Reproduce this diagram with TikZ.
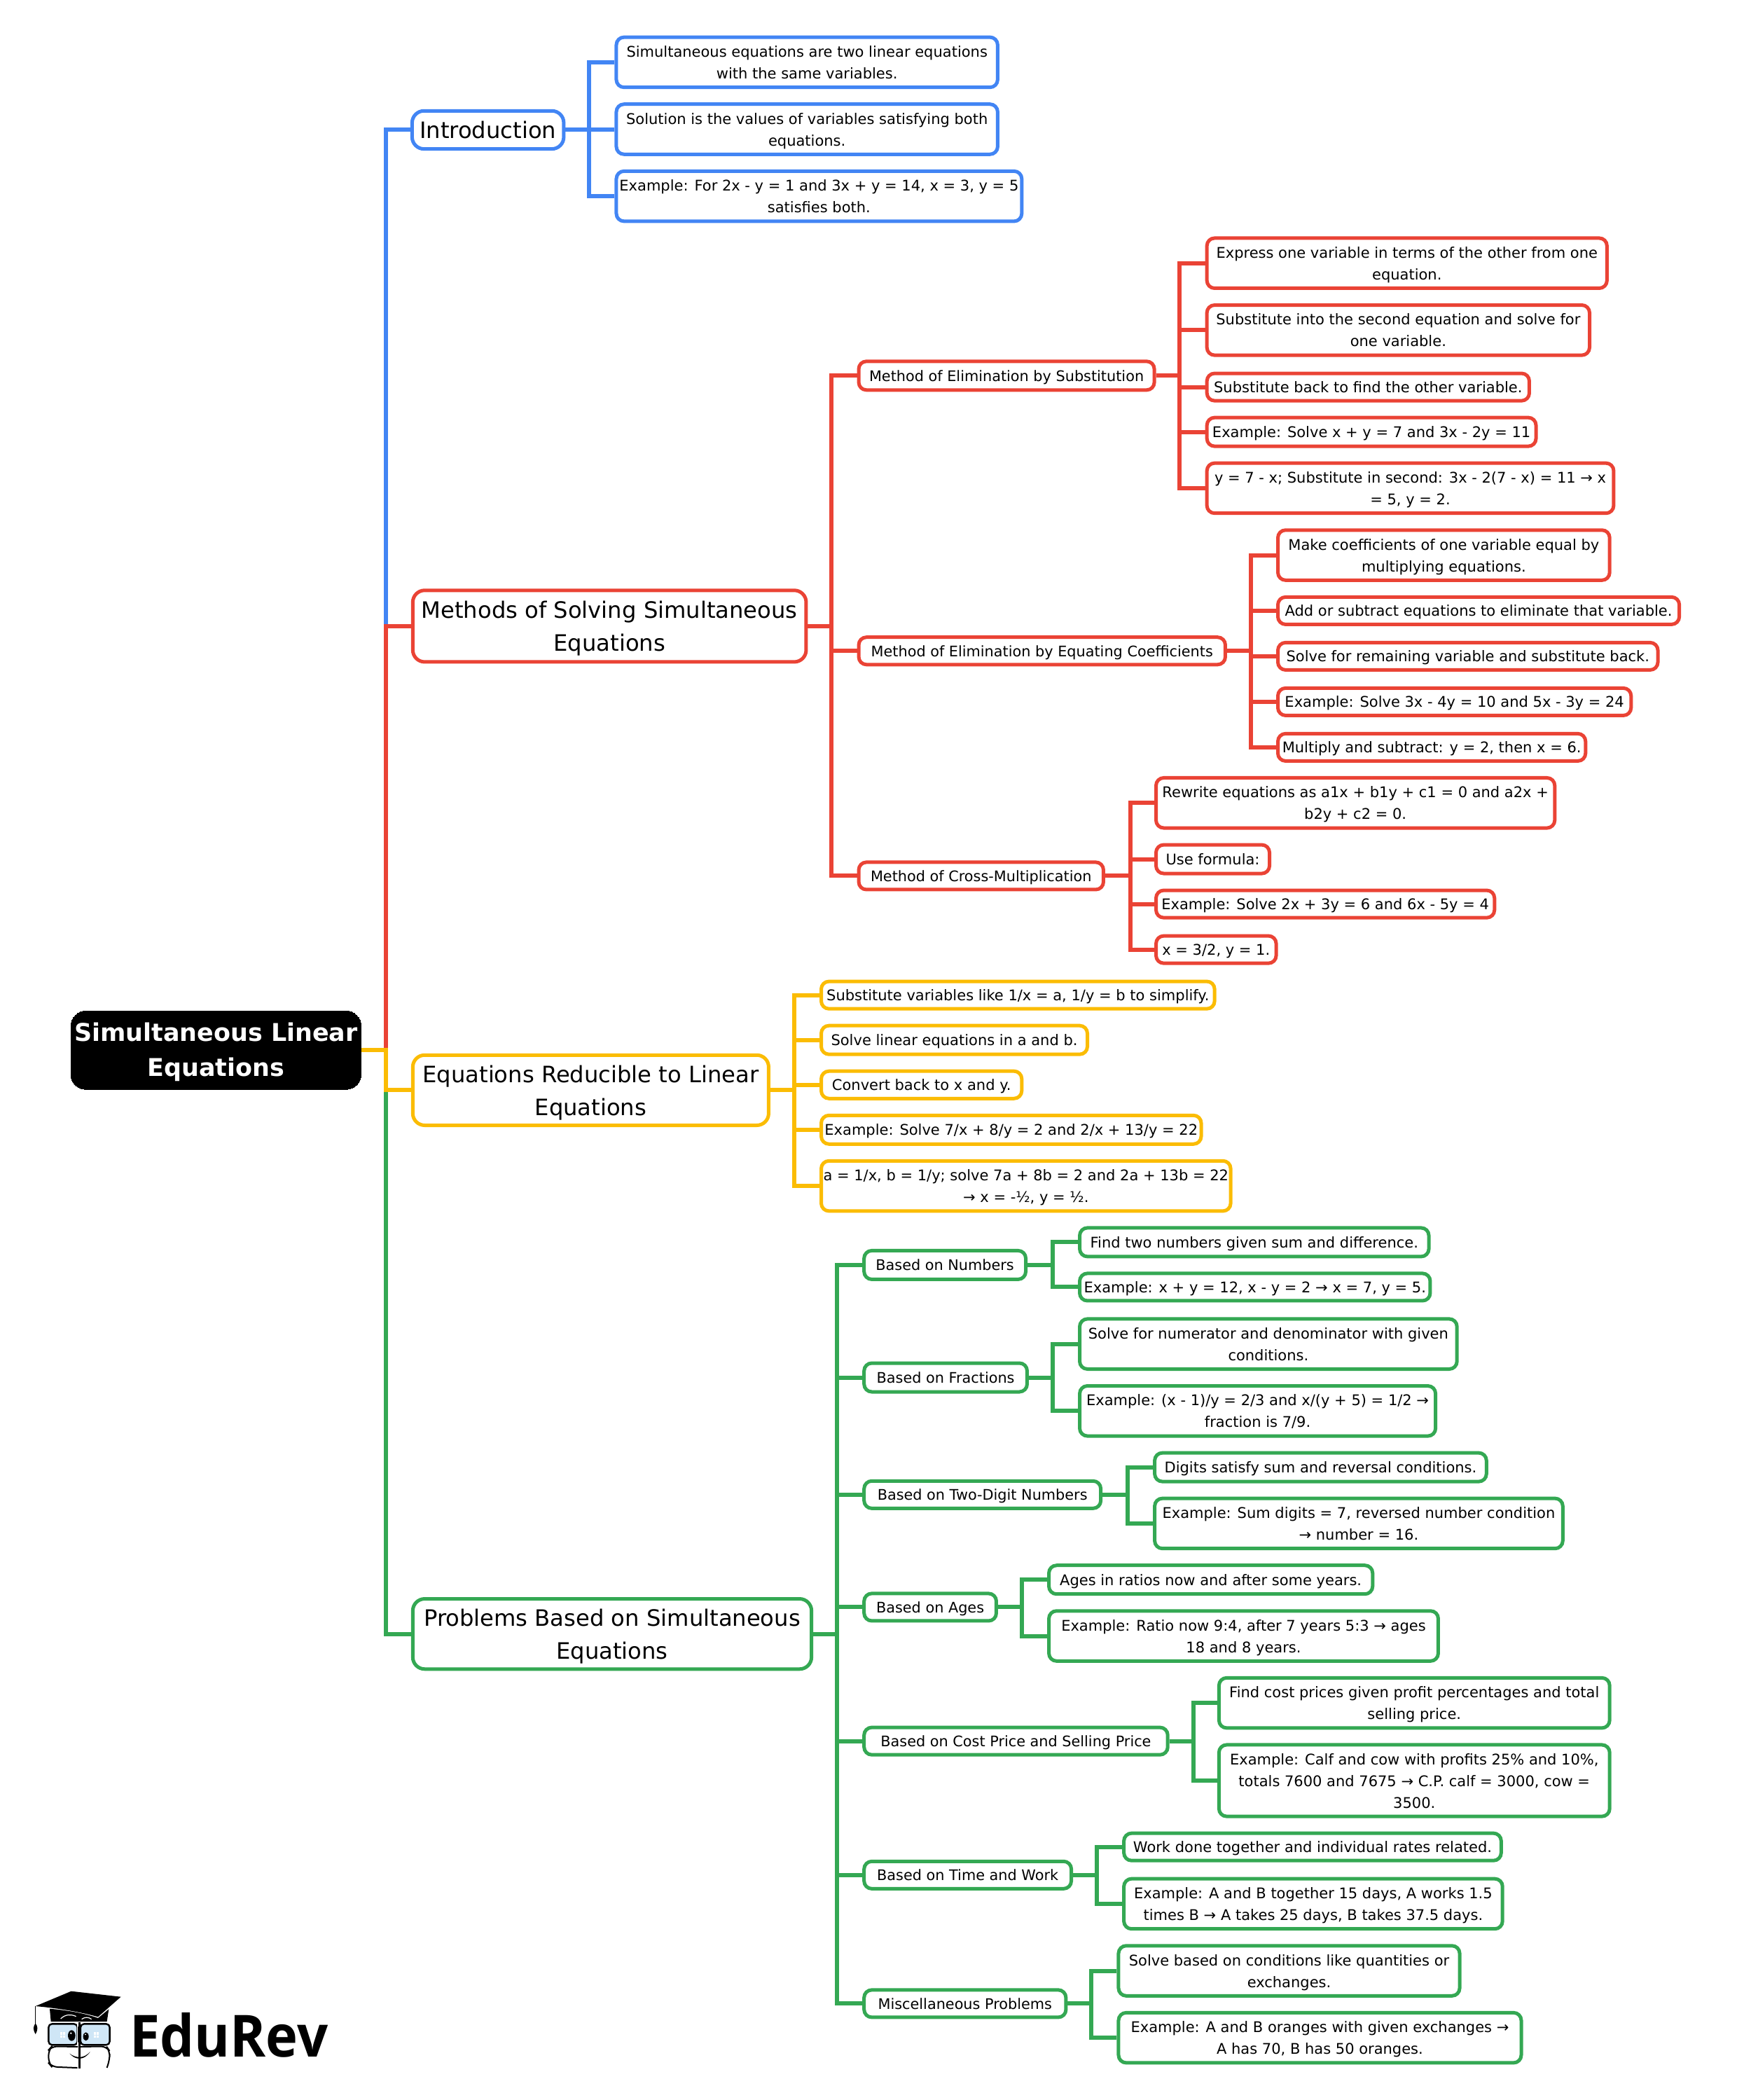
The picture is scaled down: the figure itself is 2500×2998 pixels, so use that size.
\documentclass[tikz,border=0pt]{standalone}
\usepackage{fontspec}
\setmainfont{DejaVu Sans}
\newfontfamily\logofont{Open Sans}
\definecolor{cblue}{HTML}{4285F4}
\definecolor{cred}{HTML}{EA4335}
\definecolor{cyel}{HTML}{FBBC04}
\definecolor{cgrn}{HTML}{34A853}
\definecolor{lens}{HTML}{CFE6F6}
\def\kk{1.912}
\tikzset{
  boxbase/.style={draw,fill=white,text=black,line width=5pt,rounded corners=11pt,inner sep=0pt,align=center,font=\fontsize{21}{31}\selectfont\def\hs{21pt}\def\ds{5pt}},
  midbox/.style={boxbase,font=\fontsize{20.8}{31}\selectfont\def\hs{21pt}\def\ds{5pt}},
  topbox/.style={boxbase,rounded corners=17pt,font=\fontsize{32.2}{47}\selectfont\def\hs{33pt}\def\ds{8.4pt}},
  rootbox/.style={boxbase,fill=black,draw=black,text=white,line width=0pt,rounded corners=22pt,font=\fontsize{34.9}{50}\selectfont\bfseries\def\hs{34pt}\def\ds{9pt}},
  wire/.style={draw=#1,line width=6pt,line join=miter}
}
% \bx{style}{name}{x1}{y1}{x2}{y2}{text}: coordinates as box edges
\newcommand\bx[7]{%
  \pgfmathsetmacro\cxx{(#3+#5)/2*\kk+0.2}%
  \pgfmathsetmacro\cyy{(#4+#6)/2*\kk}%
  \pgfmathsetmacro\ww{(#5-#3)*\kk-0.5}%
  \pgfmathsetmacro\hh{(#6-#4)*\kk-3}%
  \node[#1,minimum width=\ww pt,minimum height=\hh pt] (#2) at (\cxx,\cyy) {\rule{0pt}{\hs}#7\rule[-\ds]{0pt}{\ds}};%
}
\newcommand\bus[2]{\pgfmathsetmacro\cxx{#2*\kk}\coordinate (#1) at (\cxx,0);}
\newcommand\conn[4]{\draw[wire=#1] (#2.east) -- (#2.east -| #4) -- (#4 |- #3.west) -- (#3.west);}
\begin{document}
\begin{tikzpicture}[x=1pt,y=-1pt]
\useasboundingbox (0,0) rectangle (2500,2998);
% nodes
\bx{rootbox}{root}{52.6}{754}{269.8}{814.2}{Simultaneous Linear\\Equations}
\bx{topbox,draw=cblue}{intro}{307.5}{82}{421}{112}{Introduction}
\bx{topbox,draw=cred}{meth}{308}{440}{602}{495}{Methods of Solving Simultaneous\\Equations}
\bx{topbox,draw=cyel}{redu}{308}{787}{574}{841}{Equations Reducible to Linear\\Equations}
\bx{topbox,draw=cgrn}{prob}{308}{1193}{606}{1247}{Problems Based on Simultaneous\\Equations}
% blue leaves
\bx{boxbase,draw=cblue}{ia}{460}{27}{745}{66}{Simultaneous equations are two linear equations\\with the same variables.}
\bx{boxbase,draw=cblue}{ib}{460}{77}{745}{116}{Solution is the values of variables satisfying both\\equations.}
\bx{boxbase,draw=cblue}{ic}{460}{127}{763}{166}{Example: For 2x - y = 1 and 3x + y = 14, x = 3, y = 5\\satisfies both.}
% red
\bx{midbox,draw=cred}{ms}{641}{269}{862}{292}{Method of Elimination by Substitution}
\bx{midbox,draw=cred}{mc}{641}{475}{915}{497}{Method of Elimination by Equating Coefficients}
\bx{midbox,draw=cred}{mx}{641}{643}{824}{665}{Method of Cross-Multiplication}
\bx{boxbase,draw=cred}{sa}{901}{177}{1200}{216}{Express one variable in terms of the other from one\\equation.}
\bx{boxbase,draw=cred}{sb}{901}{227}{1187}{266}{Substitute into the second equation and solve for\\one variable.}
\bx{boxbase,draw=cred}{sc}{901}{278}{1142}{300}{Substitute back to find the other variable.}
\bx{boxbase,draw=cred}{sd}{901}{311}{1147}{334}{Example: Solve x + y = 7 and 3x - 2y = 11}
\bx{boxbase,draw=cred}{se}{901}{345}{1205}{384}{y = 7 - x; Substitute in second: 3x - 2(7 - x) = 11 → x\\= 5, y = 2.}
\bx{boxbase,draw=cred}{ca}{954}{395}{1202}{434}{Make coefficients of one variable equal by\\multiplying equations.}
\bx{boxbase,draw=cred}{cb}{954}{445}{1254}{467}{Add or subtract equations to eliminate that variable.}
\bx{boxbase,draw=cred}{cc}{954}{479}{1238}{501}{Solve for remaining variable and substitute back.}
\bx{boxbase,draw=cred}{cd}{954}{513}{1218}{535}{Example: Solve 3x - 4y = 10 and 5x - 3y = 24}
\bx{boxbase,draw=cred}{ce}{954}{547}{1184}{569}{Multiply and subtract: y = 2, then x = 6.}
\bx{boxbase,draw=cred}{xa}{863}{580}{1161}{619}{Rewrite equations as a1x + b1y + c1 = 0 and a2x +\\b2y + c2 = 0.}
\bx{boxbase,draw=cred}{xb}{863}{630}{948}{653}{Use formula:}
\bx{boxbase,draw=cred}{xc}{863}{664}{1116}{686}{Example: Solve 2x + 3y = 6 and 6x - 5y = 4}
\bx{boxbase,draw=cred}{xd}{863}{698}{953}{720}{x = 3/2, y = 1.}
% yellow
\bx{boxbase,draw=cyel}{ya}{613}{732}{907}{754}{Substitute variables like 1/x = a, 1/y = b to simplify.}
\bx{boxbase,draw=cyel}{yb}{613}{765}{812}{788}{Solve linear equations in a and b.}
\bx{boxbase,draw=cyel}{yc}{613}{799}{763}{821}{Convert back to x and y.}
\bx{boxbase,draw=cyel}{yd}{613}{832}{897}{855}{Example: Solve 7/x + 8/y = 2 and 2/x + 13/y = 22}
\bx{boxbase,draw=cyel}{ye}{613}{866}{919}{905}{a = 1/x, b = 1/y; solve 7a + 8b = 2 and 2a + 13b = 22\\→ x = -½, y = ½.}
% green
\bx{midbox,draw=cgrn}{gn}{645}{933}{766}{956}{Based on Numbers}
\bx{midbox,draw=cgrn}{gf}{645}{1017}{767}{1040}{Based on Fractions}
\bx{midbox,draw=cgrn}{gt}{645}{1105}{822}{1127}{Based on Two-Digit Numbers}
\bx{midbox,draw=cgrn}{ga}{645}{1189}{744}{1211}{Based on Ages}
\bx{midbox,draw=cgrn}{gc}{645}{1289}{872}{1311}{Based on Cost Price and Selling Price}
\bx{midbox,draw=cgrn}{gw}{645}{1389}{800}{1411}{Based on Time and Work}
\bx{midbox,draw=cgrn}{gm}{645}{1485}{796}{1507}{Miscellaneous Problems}
\bx{boxbase,draw=cgrn}{na}{806}{916}{1067}{939}{Find two numbers given sum and difference.}
\bx{boxbase,draw=cgrn}{nb}{806}{950}{1068}{972}{Example: x + y = 12, x - y = 2 → x = 7, y = 5.}
\bx{boxbase,draw=cgrn}{fa}{806}{984}{1088}{1023}{Solve for numerator and denominator with given\\conditions.}
\bx{boxbase,draw=cgrn}{fb}{806}{1034}{1072}{1073}{Example: (x - 1)/y = 2/3 and x/(y + 5) = 1/2 →\\fraction is 7/9.}
\bx{boxbase,draw=cgrn}{ta}{862}{1084}{1110}{1107}{Digits satisfy sum and reversal conditions.}
\bx{boxbase,draw=cgrn}{tb}{862}{1118}{1167}{1157}{Example: Sum digits = 7, reversed number condition\\→ number = 16.}
\bx{boxbase,draw=cgrn}{aa}{783}{1168}{1025}{1191}{Ages in ratios now and after some years.}
\bx{boxbase,draw=cgrn}{ab}{783}{1202}{1074}{1241}{Example: Ratio now 9:4, after 7 years 5:3 → ages\\18 and 8 years.}
\bx{boxbase,draw=cgrn}{oa}{910}{1252}{1202}{1291}{Find cost prices given profit percentages and total\\selling price.}
\bx{boxbase,draw=cgrn}{ob}{910}{1302}{1202}{1357}{Example: Calf and cow with profits 25\% and 10\%,\\totals 7600 and 7675 → C.P. calf = 3000, cow =\\3500.}
\bx{boxbase,draw=cgrn}{wa}{839}{1368}{1121}{1390}{Work done together and individual rates related.}
\bx{boxbase,draw=cgrn}{wb}{839}{1402}{1122}{1441}{Example: A and B together 15 days, A works 1.5\\times B → A takes 25 days, B takes 37.5 days.}
\bx{boxbase,draw=cgrn}{ma}{835}{1452}{1090}{1491}{Solve based on conditions like quantities or\\exchanges.}
\bx{boxbase,draw=cgrn}{mb}{835}{1502}{1136}{1541}{Example: A and B oranges with given exchanges →\\A has 70, B has 50 oranges.}
% buses
\bus{brt}{288}\bus{bin}{440}\bus{bme}{621}\bus{bsu}{881}\bus{bco}{934}\bus{bcr}{844}
\bus{bre}{593}\bus{bpr}{625}\bus{bnu}{786}\bus{bfr}{786}\bus{btw}{842}\bus{bag}{763}
\bus{bcs}{891}\bus{bti}{819}\bus{bmi}{815}
% connectors
\foreach \b in {ia,ib,ic}{\conn{cblue}{intro}{\b}{bin}}
\foreach \b in {ms,mc,mx}{\conn{cred}{meth}{\b}{bme}}
\foreach \b in {sa,sb,sc,sd,se}{\conn{cred}{ms}{\b}{bsu}}
\foreach \b in {ca,cb,cc,cd,ce}{\conn{cred}{mc}{\b}{bco}}
\foreach \b in {xa,xb,xc,xd}{\conn{cred}{mx}{\b}{bcr}}
\foreach \b in {ya,yb,yc,yd,ye}{\conn{cyel}{redu}{\b}{bre}}
\foreach \b in {gn,gf,gt,ga,gc,gw,gm}{\conn{cgrn}{prob}{\b}{bpr}}
\foreach \b in {na,nb}{\conn{cgrn}{gn}{\b}{bnu}}
\foreach \b in {fa,fb}{\conn{cgrn}{gf}{\b}{bfr}}
\foreach \b in {ta,tb}{\conn{cgrn}{gt}{\b}{btw}}
\foreach \b in {aa,ab}{\conn{cgrn}{ga}{\b}{bag}}
\foreach \b in {oa,ob}{\conn{cgrn}{gc}{\b}{bcs}}
\foreach \b in {wa,wb}{\conn{cgrn}{gw}{\b}{bti}}
\foreach \b in {ma,mb}{\conn{cgrn}{gm}{\b}{bmi}}
\conn{cblue}{root}{intro}{brt}
\conn{cred}{root}{meth}{brt}
\conn{cgrn}{root}{prob}{brt}
\conn{cyel}{root}{redu}{brt}
% logo
\begin{scope}[shift={(0,2800)},x=0.3333pt,y=-0.3333pt]
\fill (152,192) -- (305,128) -- (518,152) -- (420,238) .. controls (340,215) and (240,200) .. (152,192) -- cycle;
\fill (213,203) .. controls (290,210) and (360,222) .. (420,243) -- (466,205) -- (458,258) -- (218,258) -- cycle;
\draw[line width=1.6pt] (152,192) -- (152,268);
\fill (152,265) .. controls (142,280) and (140,290) .. (152,312) .. controls (164,290) and (162,280) .. (152,265) -- cycle;
\draw[white,line width=1.2pt] (260,246) .. controls (280,226) and (305,226) .. (326,236);
\draw[white,line width=1.2pt] (350,248) .. controls (362,238) and (380,238) .. (392,248);
\draw[line width=2.4pt,fill=lens,rounded corners=5pt] (208,268) rectangle (332,358);
\draw[line width=2.4pt,fill=lens,rounded corners=5pt] (345,268) rectangle (470,358);
\draw[line width=2pt,line cap=round,rounded corners=8pt] (332,366) -- (222,364) -- (208,380) -- (208,435) -- (222,452) -- (330,456);
\draw[line width=2pt,rounded corners=8pt] (345,366) -- (456,364) -- (470,385) -- (470,420) -- (458,456);
\draw[line width=3pt] (340,262) -- (340,458);
\draw[white,line width=1pt] (333,262) -- (333,360);
\fill (307,318) ellipse [x radius=16,y radius=23];
\fill (368,322) ellipse [x radius=12,y radius=18];
\fill[white] (304,308) circle (4);
\fill[white] (366,313) circle (3);
\fill[white] (257,304) rectangle (278,326);
\fill[white] (402,304) rectangle (424,326);
\draw[lens,line width=0.7pt] (267.5,304) -- (267.5,326) (257,315) -- (278,315) (413,304) -- (413,326) (402,315) -- (424,315);
\fill (298,395) .. controls (330,418) and (360,415) .. (386,388) .. controls (360,425) and (325,425) .. (298,395) -- cycle;
\end{scope}
\node[anchor=base west,inner sep=0pt,font=\logofont\bfseries\fontsize{83}{83}\selectfont] (logo) at (185,2936) {\scalebox{0.935}[1]{EduRev}};
\end{tikzpicture}
\end{document}
